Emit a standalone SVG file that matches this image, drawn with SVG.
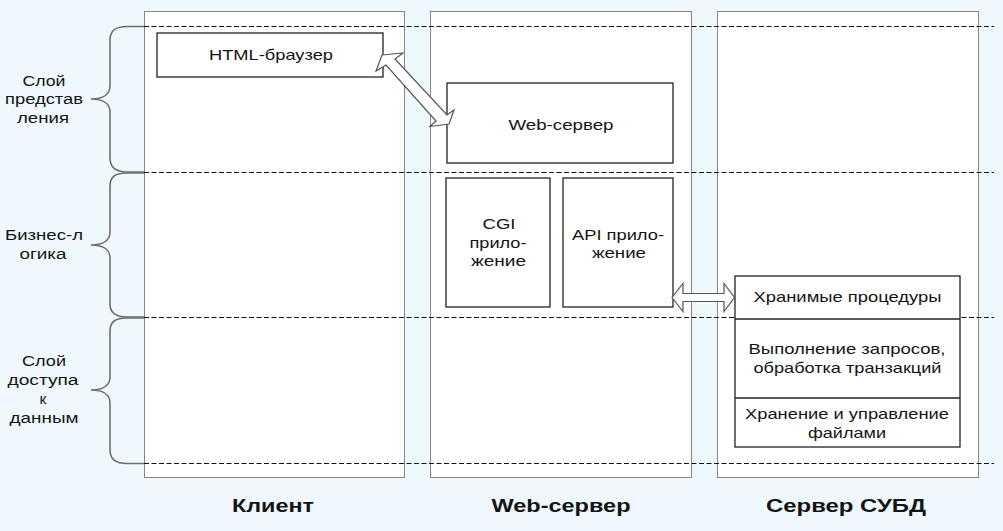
<svg xmlns="http://www.w3.org/2000/svg" width="1003" height="531" viewBox="0 0 1003 531">
<style>
.col{fill:#fff;stroke:#111;stroke-width:1;stroke-dasharray:1 1}
.row{stroke:#111;stroke-width:1;stroke-dasharray:5 2.5;fill:none}
.brace{fill:none;stroke:#6e6e6e;stroke-width:1.6}
.box{fill:#fff;stroke:#222;stroke-width:1.3}
.div{stroke:#222;stroke-width:1.3}
.arr{fill:#fff;stroke:#555;stroke-width:1.2;stroke-linejoin:miter}
text{font-family:"Liberation Sans",Arial,sans-serif;font-size:15px;fill:#141414;text-anchor:middle}
.side{font-size:15.5px}
.lbl{font-weight:bold;font-size:18px}
</style>
<rect width="1003" height="531" fill="#eef8fd"/>
<g id="columns">
<rect class="col" x="144.5" y="11.5" width="260" height="466"/>
<rect class="col" x="430.5" y="11.5" width="261" height="466"/>
<rect class="col" x="717.5" y="11.5" width="261" height="466"/>
</g>
<g id="layers">
<line class="row" x1="144" y1="26.5" x2="994" y2="26.5"/>
<line class="row" x1="144" y1="172.5" x2="994" y2="172.5"/>
<line class="row" x1="144" y1="317.5" x2="994" y2="317.5"/>
<line class="row" x1="144" y1="463.5" x2="994" y2="463.5"/>
<path class="brace" d="M144,26.5 H127 C116,26.5 110,30 110,40 V86 C110,95 102,99 91,99 C102,99 110,103 110,112 V158 C110,168 116,172 127,172 H144"/>
<path class="brace" d="M144,173 H127 C116,173 110,176 110,186 V232 C110,241 102,245 91,245 C102,245 110,249 110,258 V304 C110,313 116,317 127,317 H144"/>
<path class="brace" d="M144,318 H127 C116,318 110,321 110,331 V377 C110,386 102,390 91,390 C102,390 110,394 110,403 V450 C110,459 116,463.5 127,463.5 H144"/>
</g>
<g id="layer-labels">
<text class="side" x="44" y="86" textLength="43" lengthAdjust="spacingAndGlyphs">Слой</text>
<text class="side" x="44" y="104" textLength="78" lengthAdjust="spacingAndGlyphs">представ</text>
<text class="side" x="43" y="123" textLength="52" lengthAdjust="spacingAndGlyphs">ления</text>
<text class="side" x="44" y="240" textLength="78" lengthAdjust="spacingAndGlyphs">Бизнес-л</text>
<text class="side" x="43" y="259" textLength="47" lengthAdjust="spacingAndGlyphs">огика</text>
<text class="side" x="44" y="366" textLength="44" lengthAdjust="spacingAndGlyphs">Слой</text>
<text class="side" x="43" y="385" textLength="71" lengthAdjust="spacingAndGlyphs">доступа</text>
<text class="side" x="43" y="404">к</text>
<text class="side" x="44" y="423" textLength="69" lengthAdjust="spacingAndGlyphs">данным</text>
</g>
<g id="html-browser">
<rect class="box" x="157" y="33" width="226" height="44"/>
<text x="271" y="60" textLength="124" lengthAdjust="spacingAndGlyphs">HTML-браузер</text>
</g>
<g id="web-server">
<rect class="box" x="447" y="83" width="226" height="80"/>
<text x="561" y="130" textLength="105" lengthAdjust="spacingAndGlyphs">Web-сервер</text>
</g>
<g id="cgi-app">
<rect class="box" x="446" y="178" width="104" height="129"/>
<text x="499" y="229" textLength="33" lengthAdjust="spacingAndGlyphs">CGI</text>
<text x="498" y="247.5" textLength="57" lengthAdjust="spacingAndGlyphs">прило-</text>
<text x="498.5" y="266" textLength="55" lengthAdjust="spacingAndGlyphs">жение</text>
</g>
<g id="api-app">
<rect class="box" x="563" y="178" width="110" height="129"/>
<text x="618" y="239.5" textLength="92" lengthAdjust="spacingAndGlyphs">API прило-</text>
<text x="619" y="257.5" textLength="54" lengthAdjust="spacingAndGlyphs">жение</text>
</g>
<g id="dbms-server">
<rect class="box" x="735" y="276" width="225" height="171"/>
<line class="div" x1="735" y1="319" x2="960" y2="319"/>
<line class="div" x1="735" y1="398" x2="960" y2="398"/>
<text x="847.5" y="302" textLength="188" lengthAdjust="spacingAndGlyphs">Хранимые процедуры</text>
<text x="847" y="354" textLength="197" lengthAdjust="spacingAndGlyphs">Выполнение запросов,</text>
<text x="847.5" y="373" textLength="188" lengthAdjust="spacingAndGlyphs">обработка транзакций</text>
<text x="847" y="419" textLength="204" lengthAdjust="spacingAndGlyphs">Хранение и управление</text>
<text x="847" y="438" textLength="78" lengthAdjust="spacingAndGlyphs">файлами</text>
</g>
<g id="connectors">
<polygon class="arr" points="382,55 403,53 395,59 447,115 454,110 449,124 430,126.5 436,121 386,65 376,71"/>
<polygon class="arr" points="672,297.5 683,283.5 683,293.5 724,293.5 724,283.5 734.5,297.5 724,311.5 724,301.5 683,301.5 683,311.5"/>
</g>
<g id="tier-labels">
<text class="lbl" x="273" y="512" textLength="82" lengthAdjust="spacingAndGlyphs">Клиент</text>
<text class="lbl" x="561" y="512" textLength="139" lengthAdjust="spacingAndGlyphs">Web-сервер</text>
<text class="lbl" x="846" y="512" textLength="160" lengthAdjust="spacingAndGlyphs">Сервер СУБД</text>
</g>
</svg>
